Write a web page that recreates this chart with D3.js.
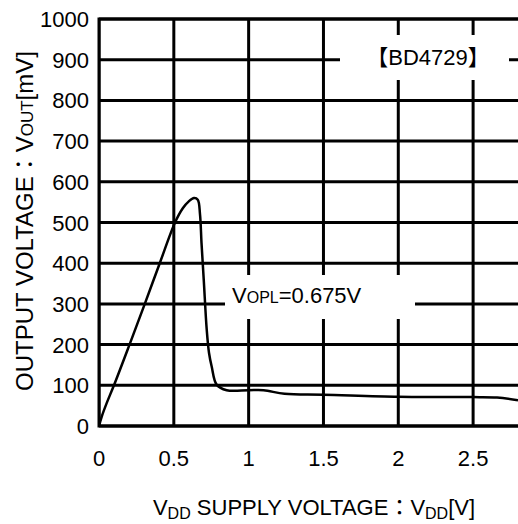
<!DOCTYPE html>
<html>
<head>
<meta charset="utf-8">
<script src="https://cdn.jsdelivr.net/npm/d3@7"></script>
<style>
  body { margin: 0; background: #fff; }
  text { font-family: "Liberation Sans", Arial, "Noto Sans CJK JP", sans-serif; fill: #000; }
</style>
</head>
<body>
<div id="chart"></div>
<script>
// supply voltage [V] vs output voltage [mV]
let vdd  = [0, 0.02, 0.05, 0.1, 0.204, 0.306, 0.406, 0.508, 0.56, 0.60, 0.635, 0.66, 0.675, 0.685, 0.70, 0.72, 0.735, 0.753, 0.787, 0.853, 1.0, 1.1, 1.24, 1.5, 2.0, 2.5, 2.66, 2.8]
let vout = [0, 25, 55, 100, 200, 300, 400, 500, 535, 552, 560, 556, 520, 450, 359, 236, 180, 146, 101, 88, 88, 88, 79, 77, 72, 71, 70, 63]
let x_ticks = [0, 0.5, 1, 1.5, 2, 2.5]
let y_ticks = [0, 100, 200, 300, 400, 500, 600, 700, 800, 900, 1000]

let width = 518,
    height = 524,
    plot_left = 99, plot_top = 19, plot_right = 518, plot_bottom = 426

let x = d3.scaleLinear().domain([0, 2.8]).range([plot_left, plot_right])
let y = d3.scaleLinear().domain([0, 1000]).range([plot_bottom, plot_top])

let svg = d3.select("#chart").append("svg")
    .attr("width", width)
    .attr("height", height)

svg.append("clipPath").attr("id", "plot")
  .append("rect")
    .attr("x", plot_left).attr("y", plot_top - 2)
    .attr("width", plot_right - plot_left).attr("height", plot_bottom - plot_top + 4)

let grid = svg.append("g").attr("clip-path", "url(#plot)")

grid.selectAll(".hgrid")
    .data(y_ticks).enter()
  .append("line")
    .attr("x1", plot_left).attr("x2", plot_right)
    .attr("y1", d => y(d)).attr("y2", d => y(d))
    .style("stroke", "#000").style("stroke-width", 3)

grid.selectAll(".vgrid")
    .data(x_ticks).enter()
  .append("line")
    .attr("x1", d => x(d)).attr("x2", d => x(d))
    .attr("y1", plot_top).attr("y2", plot_bottom)
    .style("stroke", "#000").style("stroke-width", 3)

// white boxes for the two labels, cutting the grid
svg.append("rect").attr("x", 340).attr("y", 35).attr("width", 169).attr("height", 45).style("fill", "#fff")
svg.append("rect").attr("x", 225).attr("y", 275).attr("width", 190).attr("height", 44).style("fill", "#fff")

let line = d3.line()
    .x((d, i) => x(vdd[i]))
    .y(d => y(d))
    .curve(d3.curveCatmullRom.alpha(0.5))

svg.append("path")
    .datum(vout)
    .attr("clip-path", "url(#plot)")
    .attr("d", line)
    .style("fill", "none")
    .style("stroke", "#000")
    .style("stroke-width", 2.5)
    .style("stroke-linejoin", "round")

// tick labels
svg.selectAll(".ylab")
    .data(y_ticks).enter()
  .append("text")
    .attr("x", 89).attr("y", d => y(d) + 8)
    .attr("text-anchor", "end")
    .style("font-size", "22px")
    .text(d => d)

svg.selectAll(".xlab")
    .data(x_ticks).enter()
  .append("text")
    .attr("x", d => x(d)).attr("y", 466)
    .attr("text-anchor", "middle")
    .style("font-size", "22px")
    .text(d => d)

// labels
svg.append("text")
    .attr("x", 428).attr("y", 65)
    .attr("text-anchor", "middle")
    .style("font-size", "22px")
    .text("【BD4729】")

let vopl = svg.append("text")
    .attr("x", 232).attr("y", 303)
    .style("font-size", "22px")
vopl.append("tspan").text("V")
vopl.append("tspan").style("font-size", "16px").text("OPL")
vopl.append("tspan").text("=0.675V")

let xt = svg.append("text")
    .attr("x", 314).attr("y", 515)
    .attr("text-anchor", "middle")
    .style("font-size", "22px")
xt.append("tspan").text("V")
xt.append("tspan").style("font-size", "16px").attr("dy", 4).text("DD")
xt.append("tspan").attr("dy", -4).text(" SUPPLY VOLTAGE：V")
xt.append("tspan").style("font-size", "16px").attr("dy", 4).text("DD")
xt.append("tspan").attr("dy", -4).text("[V]")

let yt = svg.append("text")
    .attr("transform", "translate(33,221) rotate(-90)")
    .attr("text-anchor", "middle")
    .style("font-size", "24px")
yt.append("tspan").text("OUTPUT VOLTAGE：V")
yt.append("tspan").style("font-size", "17px").text("OUT")
yt.append("tspan").text("[mV]")

// axis frame: left, top, bottom
svg.append("path")
    .attr("d", "M" + plot_right + "," + plot_top + "H" + plot_left + "V" + plot_bottom + "H" + plot_right)
    .style("fill", "none")
    .style("stroke", "#000")
    .style("stroke-width", 3)
</script>
</body>
</html>
